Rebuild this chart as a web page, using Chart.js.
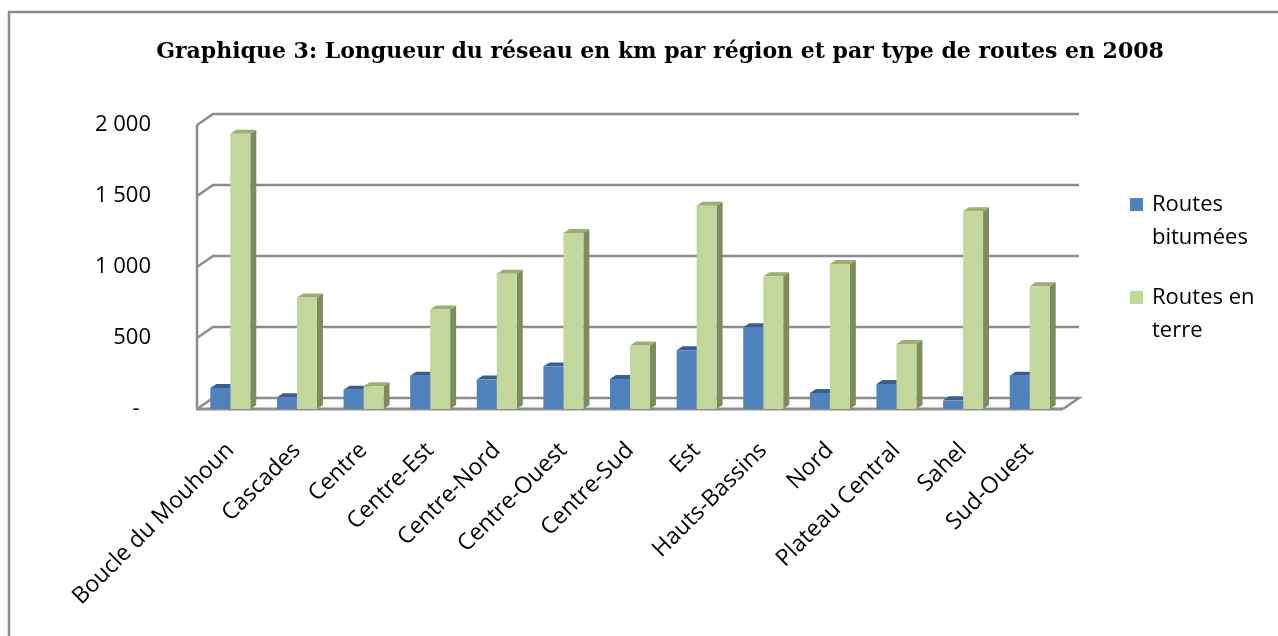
<!DOCTYPE html>
<html>
<head>
<meta charset="utf-8">
<script src="https://cdn.jsdelivr.net/npm/chart.js@4"></script>
<style>
  html, body { margin: 0; padding: 0; background: #fff; }
  #wrap { width: 1278px; height: 636px; }
</style>
</head>
<body>
<div id="wrap"><canvas id="roadChart" width="1278" height="636"></canvas></div>
<script>
  // -- data --
  const regions = ['Boucle du Mouhoun', 'Cascades', 'Centre', 'Centre-Est', 'Centre-Nord', 'Centre-Ouest',
    'Centre-Sud', 'Est', 'Hauts-Bassins', 'Nord', 'Plateau Central', 'Sahel', 'Sud-Ouest'];
  const routesBitumees = [148, 82, 136, 235, 207, 300, 211, 413, 575, 113, 176, 61, 235];
  const routesEnTerre = [1939, 786, 160, 700, 953, 1239, 448, 1432, 934, 1021, 458, 1392, 864];
  const yTickLabels = ['-', '500', '1 000', '1 500', '2 000'];
  const chartTitle = 'Graphique 3: Longueur du réseau en km par région et par type de routes en 2008';

  const WALL = { dx: 16, dy: -11 };   // back wall offset
  const BAR = { dx: 6, dy: -4 };      // bar depth
  const shades = [
    { side: '#3a6394', top: '#385f8f' },
    { side: '#7e8b5c', top: '#9dad6f' }
  ];

  // white background, frame and title
  const framePlugin = {
    id: 'frame',
    beforeDraw(chart) {
      const ctx = chart.ctx;
      ctx.save();
      ctx.fillStyle = '#fff';
      ctx.fillRect(0, 0, chart.width, chart.height);
      ctx.strokeStyle = '#8a8a8a';
      ctx.lineWidth = 2.5;
      ctx.strokeRect(9, 12, chart.width + 20, chart.height + 20);
      ctx.fillStyle = '#000';
      ctx.font = 'bold 22px "DejaVu Serif"';
      ctx.textAlign = 'center';
      ctx.textBaseline = 'alphabetic';
      ctx.fillText(chartTitle, 660, 58);
      ctx.restore();
    }
  };

  // walls, gridlines and the depth faces of the bars
  const depthPlugin = {
    id: 'depth',
    beforeDatasetsDraw(chart) {
      const { ctx, chartArea: a, scales: { y } } = chart;
      ctx.save();
      ctx.lineWidth = 2.5;
      ctx.strokeStyle = '#8c8c8c';
      y.ticks.forEach(t => {
        if (t.value === 0) return;
        const py = y.getPixelForValue(t.value);
        ctx.beginPath();
        ctx.moveTo(a.left, py);
        ctx.lineTo(a.left + WALL.dx, py + WALL.dy);
        ctx.lineTo(a.right + WALL.dx, py + WALL.dy);
        ctx.stroke();
      });
      // left wall
      ctx.beginPath();
      ctx.moveTo(a.left, y.getPixelForValue(2000));
      ctx.lineTo(a.left, a.bottom);
      ctx.stroke();
      // floor
      ctx.beginPath();
      ctx.moveTo(a.left, a.bottom);
      ctx.lineTo(a.left + WALL.dx, a.bottom + WALL.dy);
      ctx.lineTo(a.right + WALL.dx, a.bottom + WALL.dy);
      ctx.lineTo(a.right, a.bottom);
      ctx.stroke();
      ctx.lineWidth = 3;
      ctx.strokeStyle = '#8f8f8f';
      ctx.beginPath();
      ctx.moveTo(a.left - 1, a.bottom);
      ctx.lineTo(a.right, a.bottom);
      ctx.stroke();

      chart.data.datasets.forEach((ds, di) => {
        chart.getDatasetMeta(di).data.forEach(bar => {
          const l = bar.x - bar.width / 2, r = bar.x + bar.width / 2;
          ctx.fillStyle = shades[di].side;
          ctx.beginPath();
          ctx.moveTo(r, bar.y);
          ctx.lineTo(r + BAR.dx, bar.y + BAR.dy);
          ctx.lineTo(r + BAR.dx, bar.base + BAR.dy);
          ctx.lineTo(r, bar.base);
          ctx.closePath();
          ctx.fill();
          ctx.fillStyle = shades[di].top;
          ctx.beginPath();
          ctx.moveTo(l, bar.y);
          ctx.lineTo(l + BAR.dx, bar.y + BAR.dy);
          ctx.lineTo(r + BAR.dx, bar.y + BAR.dy);
          ctx.lineTo(r, bar.y);
          ctx.closePath();
          ctx.fill();
        });
      });
      ctx.restore();
    }
  };

  // legend on the right, labels wrapped on two lines
  const legendPlugin = {
    id: 'sideLegend',
    afterDraw(chart) {
      const ctx = chart.ctx;
      ctx.save();
      ctx.font = '22px "Open Sans"';
      ctx.textBaseline = 'alphabetic';
      chart.data.datasets.forEach((ds, i) => {
        const words = ds.label.split(' ');
        const lines = [];
        let cur = '';
        words.forEach(w => {
          const test = cur ? cur + ' ' + w : w;
          if (ctx.measureText(test).width > 112 && cur) { lines.push(cur); cur = w; } else cur = test;
        });
        lines.push(cur);
        const base = 211 + i * 93;
        ctx.fillStyle = ds.backgroundColor;
        ctx.fillRect(1130, base - 13, 13, 13);
        ctx.fillStyle = '#000';
        lines.forEach((ln, k) => ctx.fillText(ln, 1152, base + k * 33));
      });
      ctx.restore();
    }
  };

  new Chart(document.getElementById('roadChart').getContext('2d'), {
    type: 'bar',
    data: {
      labels: regions,
      datasets: [{
        label: 'Routes bitumées',
        data: routesBitumees,
        backgroundColor: '#4f81bd'
      }, {
        label: 'Routes en terre',
        data: routesEnTerre,
        backgroundColor: '#c3d69b'
      }]
    },
    options: {
      responsive: false,
      animation: false,
      events: [],
      categoryPercentage: 0.6,
      barPercentage: 1.0,
      layout: { padding: { left: 20, right: 215, top: 125, bottom: 0 } },
      plugins: {
        legend: { display: false },
        tooltip: { enabled: false },
        title: { display: false }
      },
      scales: {
        x: {
          grid: { display: false },
          border: { display: false },
          ticks: {
            color: '#000',
            font: { family: '"Open Sans"', size: 23 },
            minRotation: 45,
            maxRotation: 45,
            padding: 20
          },
          afterFit(s) { s.height = 227; }
        },
        y: {
          min: 0,
          max: 2000,
          grid: { display: false, drawTicks: false },
          border: { display: false },
          ticks: {
            stepSize: 500,
            color: '#000',
            font: { family: '"Open Sans"', size: 22 },
            padding: 46,
            callback: (v, i) => (i === 0 ? yTickLabels[i] + '  ' : yTickLabels[i])
          },
          afterFit(s) { s.width = 177; }
        }
      }
    },
    plugins: [framePlugin, depthPlugin, legendPlugin]
  });
</script>
</body>
</html>
